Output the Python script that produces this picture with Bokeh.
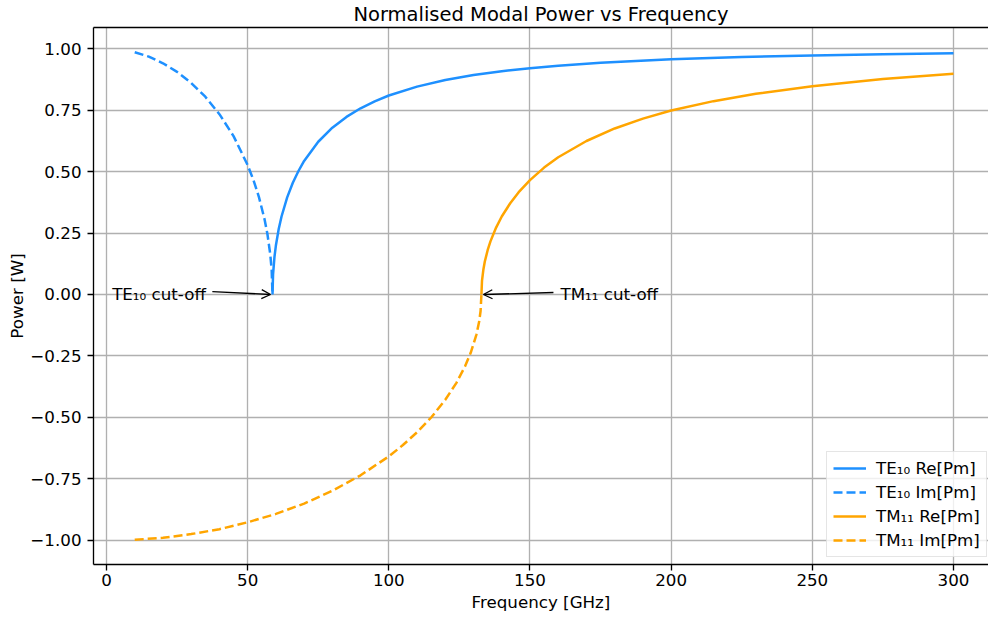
from bokeh.plotting import figure
from bokeh.models import (Legend, LegendItem, FixedTicker, Arrow, OpenHead, Label,
                          LinearAxis, Range1d)
from bokeh.embed import file_html
from bokeh.resources import INLINE

# ---- data ----
te_re_f = [58.8, 59, 59.5, 60, 61, 62, 64, 66, 68, 70, 75, 80, 85, 90, 95, 100,
           110, 120, 130, 140, 150, 160, 175, 200, 225, 250, 275, 300]
te_re_p = [0.0, 0.082, 0.153, 0.199, 0.266, 0.317, 0.395, 0.454, 0.502, 0.543, 0.621,
           0.678, 0.722, 0.757, 0.785, 0.809, 0.845, 0.872, 0.892, 0.908, 0.920,
           0.930, 0.942, 0.956, 0.965, 0.972, 0.977, 0.981]

te_im_f = [10, 15, 20, 25, 30, 35, 40, 45, 50, 52, 54, 56, 57, 58, 58.5, 58.8]
te_im_p = [0.985, 0.967, 0.940, 0.905, 0.860, 0.804, 0.733, 0.644, 0.526, 0.467,
           0.396, 0.305, 0.246, 0.164, 0.101, 0.0]

tm_re_f = [132.8, 133, 133.5, 134, 135, 136, 138, 140, 143, 146, 150, 155, 160, 170,
           180, 190, 200, 215, 230, 250, 275, 300]
tm_re_p = [0.0, 0.055, 0.102, 0.134, 0.180, 0.216, 0.272, 0.317, 0.371, 0.416, 0.465,
           0.516, 0.558, 0.624, 0.675, 0.715, 0.748, 0.786, 0.816, 0.847, 0.876, 0.897]

tm_im_f = [10, 20, 30, 40, 50, 60, 70, 80, 90, 100, 105, 110, 115, 120, 124, 127, 129,
           131, 132, 132.5, 132.8]
tm_im_p = [-0.997, -0.989, -0.974, -0.954, -0.926, -0.892, -0.850, -0.798, -0.735,
           -0.658, -0.612, -0.560, -0.500, -0.428, -0.358, -0.292, -0.237, -0.164,
           -0.110, -0.067, 0.0]

series_labels = ["TE\u2081\u2080 Re[Pm]", "TE\u2081\u2080 Im[Pm]",
                 "TM\u2081\u2081 Re[Pm]", "TM\u2081\u2081 Im[Pm]"]

x_ticks = [0, 50, 100, 150, 200, 250, 300]
x_tick_labels = ["0", "50", "100", "150", "200", "250", "300"]
y_ticks = [-1.0, -0.75, -0.5, -0.25, 0.0, 0.25, 0.5, 0.75, 1.0]
y_tick_labels = ["\u22121.00", "\u22120.75", "\u22120.50", "\u22120.25", "0.00",
                 "0.25", "0.50", "0.75", "1.00"]

ann_texts = ["TE\u2081\u2080 cut-off", "TM\u2081\u2081 cut-off"]
ann_text_x = [2.0, 160.8]
ann_text_y = [0.0, 0.0]
arrow_start_x = [37.5, 158.3]
arrow_start_y = [0.012, 0.008]
arrow_end_x = [58.1, 133.5]
arrow_end_y = [0.0, 0.0]

# ---- styling ----
FONT = "DejaVu Sans"
FS = "16.7px"
BLUE = "#1E90FF"
ORANGE = "#FFA500"
LW = 2.5
DASH = "9 4"

p = figure(width=988, height=621, output_backend="svg", toolbar_location=None,
           x_range=Range1d(-4.6, 312.4), y_range=Range1d(-1.0976, 1.0854),
           title="Normalised Modal Power vs Frequency",
           min_border_left=93, min_border_right=0, min_border_top=27, min_border_bottom=57,
           background_fill_color="white", border_fill_color="white")

p.outline_line_color = None

p.title.text_font = FONT
p.title.text_font_size = "19.5px"
p.title.text_font_style = "normal"
p.title.text_color = "black"
p.title.align = "center"
p.title.vertical_align = "top"
p.title.standoff = 0

# bottom / left axes
xa = p.below[0]
ya = p.left[0]
xa.ticker = FixedTicker(ticks=x_ticks)
ya.ticker = FixedTicker(ticks=y_ticks)
xa.major_label_overrides = dict(zip(x_ticks, x_tick_labels))
ya.major_label_overrides = dict(zip(y_ticks, y_tick_labels))
xa.axis_label = "Frequency [GHz]"
ya.axis_label = "Power [W]"
for ax in (xa, ya):
    ax.axis_line_color = "black"
    ax.axis_line_width = 1.33
    ax.major_tick_line_color = "black"
    ax.major_tick_line_width = 1.33
    ax.major_tick_in = 0
    ax.major_tick_out = 6
    ax.minor_tick_line_color = None
    ax.major_label_text_font = FONT
    ax.major_label_text_font_size = FS
    ax.major_label_text_color = "black"
    ax.axis_label_text_font = FONT
    ax.axis_label_text_font_size = FS
    ax.axis_label_text_font_style = "normal"
    ax.axis_label_text_color = "black"
xa.axis_label_standoff = 3
ya.axis_label_standoff = 0
xa.major_label_standoff = 3
ya.major_label_standoff = 6
ya.major_label_orientation = "horizontal"

p.xgrid.ticker = FixedTicker(ticks=x_ticks)
p.ygrid.ticker = FixedTicker(ticks=y_ticks)
for g in (p.xgrid[0], p.ygrid[0]):
    g.grid_line_color = "#b0b0b0"
    g.grid_line_width = 1.33

# top spine
top_axis = LinearAxis(ticker=FixedTicker(ticks=[]), major_label_text_font_size="0px",
                      major_tick_in=0, major_tick_out=0, minor_tick_in=0, minor_tick_out=0,
                      major_label_standoff=0, axis_line_color="black", axis_line_width=1.33)
p.add_layout(top_axis, "above")

# lines
r1 = p.line(te_re_f, te_re_p, line_color=BLUE, line_width=LW)
r2 = p.line(te_im_f, te_im_p, line_color=BLUE, line_width=LW, line_dash=DASH)
r3 = p.line(tm_re_f, tm_re_p, line_color=ORANGE, line_width=LW)
r4 = p.line(tm_im_f, tm_im_p, line_color=ORANGE, line_width=LW, line_dash=DASH)

# annotations
for i in range(2):
    p.add_layout(Label(x=ann_text_x[i], y=ann_text_y[i], text=ann_texts[i],
                       text_font=FONT, text_font_size=FS, text_color="black",
                       text_align="left", text_baseline="alphabetic"))
    p.add_layout(Arrow(end=OpenHead(size=9, line_width=1.33, line_color="black"),
                       x_start=arrow_start_x[i], y_start=arrow_start_y[i],
                       x_end=arrow_end_x[i], y_end=arrow_end_y[i],
                       line_width=1.33, line_color="black"))

legend = Legend(items=[LegendItem(label=series_labels[0], renderers=[r1]),
                       LegendItem(label=series_labels[1], renderers=[r2]),
                       LegendItem(label=series_labels[2], renderers=[r3]),
                       LegendItem(label=series_labels[3], renderers=[r4])],
                location=(733, 7), label_text_font=FONT, label_text_font_size=FS,
                label_text_color="black",
                border_line_color="#cccccc", border_line_width=1,
                background_fill_color="white", background_fill_alpha=0.8,
                padding=6, spacing=4, margin=0, glyph_width=33, glyph_height=20,
                label_height=20, label_standoff=10)
p.add_layout(legend)

open("out.html", "w").write(file_html(p, INLINE))
